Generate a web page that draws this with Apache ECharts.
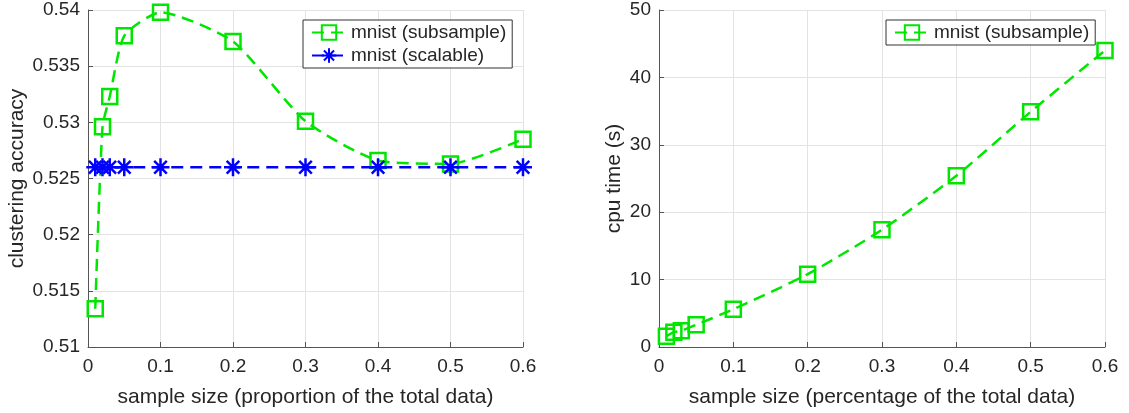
<!DOCTYPE html>
<html>
<head>
<meta charset="utf-8">
<script src="https://cdn.jsdelivr.net/npm/echarts@6/dist/echarts.min.js"></script>
<style>
  html, body { margin: 0; padding: 0; background: #fff; }
  #chart { width: 1129px; height: 413px; }
</style>
</head>
<body>
<div id="chart"></div>
<script>
// sample sizes (proportion of data)
var sampleSizes = [0.01, 0.02, 0.03, 0.05, 0.1, 0.2, 0.3, 0.4, 0.5, 0.6];
// left: clustering accuracy
var accSubsample = [0.5134, 0.5296, 0.5323, 0.5377, 0.5398, 0.5372, 0.5301, 0.5266, 0.5263, 0.5285];
var accScalable  = [0.526, 0.526, 0.526, 0.526, 0.526, 0.526, 0.526, 0.526, 0.526, 0.526];
// right: cpu time (s)
var cpuSubsample = [1.6, 2.2, 2.4, 3.3, 5.6, 10.8, 17.4, 25.4, 34.9, 44.0];

var accTicks = [0.51, 0.515, 0.52, 0.525, 0.53, 0.535, 0.54];
var xTicks = [0, 0.1, 0.2, 0.3, 0.4, 0.5, 0.6];

var GREEN = '#00e600';
var BLUE = '#0000ff';
var TXT = '#262626';
var FONT = 'Liberation Sans, Arial, sans-serif';
var asterisk = 'path://M0,-10L0,10M-10,0L10,0M-7,-7L7,7M-7,7L7,-7';

function pairs(xs, ys) {
	return xs.map(function (x, i) { return [x, ys[i]]; });
}

function xAxisOpt(idx, title) {
	return {
		type: 'value', gridIndex: idx, min: xTicks[0], max: xTicks[xTicks.length - 1], interval: 0.1,
		name: title, nameLocation: 'middle', nameGap: 40,
		nameTextStyle: { color: TXT, fontSize: 21, fontFamily: FONT },
		axisLine: { show: true, lineStyle: { color: '#555', width: 1 } },
		axisTick: { show: true, inside: true, length: 5, lineStyle: { color: '#555' } },
		axisLabel: { color: TXT, fontSize: 19, fontFamily: FONT, margin: 10 },
		splitLine: { show: true, lineStyle: { color: '#e3e3e3', width: 1 } }
	};
}

function yAxisOpt(idx, title, min, max, step, gap) {
	return {
		type: 'value', gridIndex: idx, min: min, max: max, interval: step,
		name: title, nameLocation: 'middle', nameGap: gap,
		nameTextStyle: { color: TXT, fontSize: 21, fontFamily: FONT },
		axisLine: { show: true, lineStyle: { color: '#555', width: 1 } },
		axisTick: { show: true, inside: true, length: 5, lineStyle: { color: '#555' } },
		axisLabel: { color: TXT, fontSize: 19, fontFamily: FONT, margin: 8,
			formatter: function (v) { return String(+v.toFixed(4)); } },
		splitLine: { show: true, lineStyle: { color: '#e3e3e3', width: 1 } }
	};
}

var squareSeries = function (name, idx, data) {
	return {
		name: name, type: 'line', xAxisIndex: idx, yAxisIndex: idx,
		data: data, smooth: 0.2,
		symbol: 'rect', symbolSize: 15,
		lineStyle: { color: GREEN, width: 2.5, type: [12, 7] },
		itemStyle: { color: 'rgba(0,0,0,0)', borderColor: GREEN, borderWidth: 2.5 },
		z: 3
	};
};

var chart = echarts.init(document.getElementById('chart'));
chart.setOption({
	animation: false,
	backgroundColor: '#fff',
	grid: [
		{ left: 88, right: 606, top: 10, bottom: 64 },
		{ left: 659, right: 24, top: 10, bottom: 64 }
	],
	legend: [
		{
			data: ['mnist (subsample)', 'mnist (scalable)'],
			orient: 'vertical', left: 303, top: 20,
			borderColor: '#333', borderWidth: 1, backgroundColor: '#fff',
			padding: [3, 6, 3, 8], itemGap: 4, itemWidth: 34, itemHeight: 18,
			textStyle: { color: TXT, fontSize: 19, fontFamily: FONT }
		},
		{
			data: ['mnist (subsample)'],
			orient: 'vertical', left: 886, top: 20,
			borderColor: '#333', borderWidth: 1, backgroundColor: '#fff',
			padding: [3, 6, 3, 8], itemWidth: 34, itemHeight: 18,
			textStyle: { color: TXT, fontSize: 19, fontFamily: FONT }
		}
	],
	xAxis: [
		xAxisOpt(0, 'sample size (proportion of the total data)'),
		xAxisOpt(1, 'sample size (percentage of the total data)')
	],
	yAxis: [
		yAxisOpt(0, 'clustering accuracy', accTicks[0], accTicks[accTicks.length - 1], 0.005, 60),
		yAxisOpt(1, 'cpu time (s)', 0, 50, 10, 34)
	],
	series: [
		squareSeries('mnist (subsample)', 0, pairs(sampleSizes, accSubsample)),
		{
			name: 'mnist (scalable)', type: 'line', xAxisIndex: 0, yAxisIndex: 0,
			data: pairs(sampleSizes, accScalable),
			symbol: asterisk, symbolSize: 18,
			lineStyle: { color: BLUE, width: 2.5, type: [12, 7] },
			itemStyle: { color: BLUE, borderColor: BLUE, borderWidth: 2.5 },
			z: 4
		},
		squareSeries('mnist (subsample)', 1, pairs(sampleSizes, cpuSubsample))
	]
});
</script>
</body>
</html>
